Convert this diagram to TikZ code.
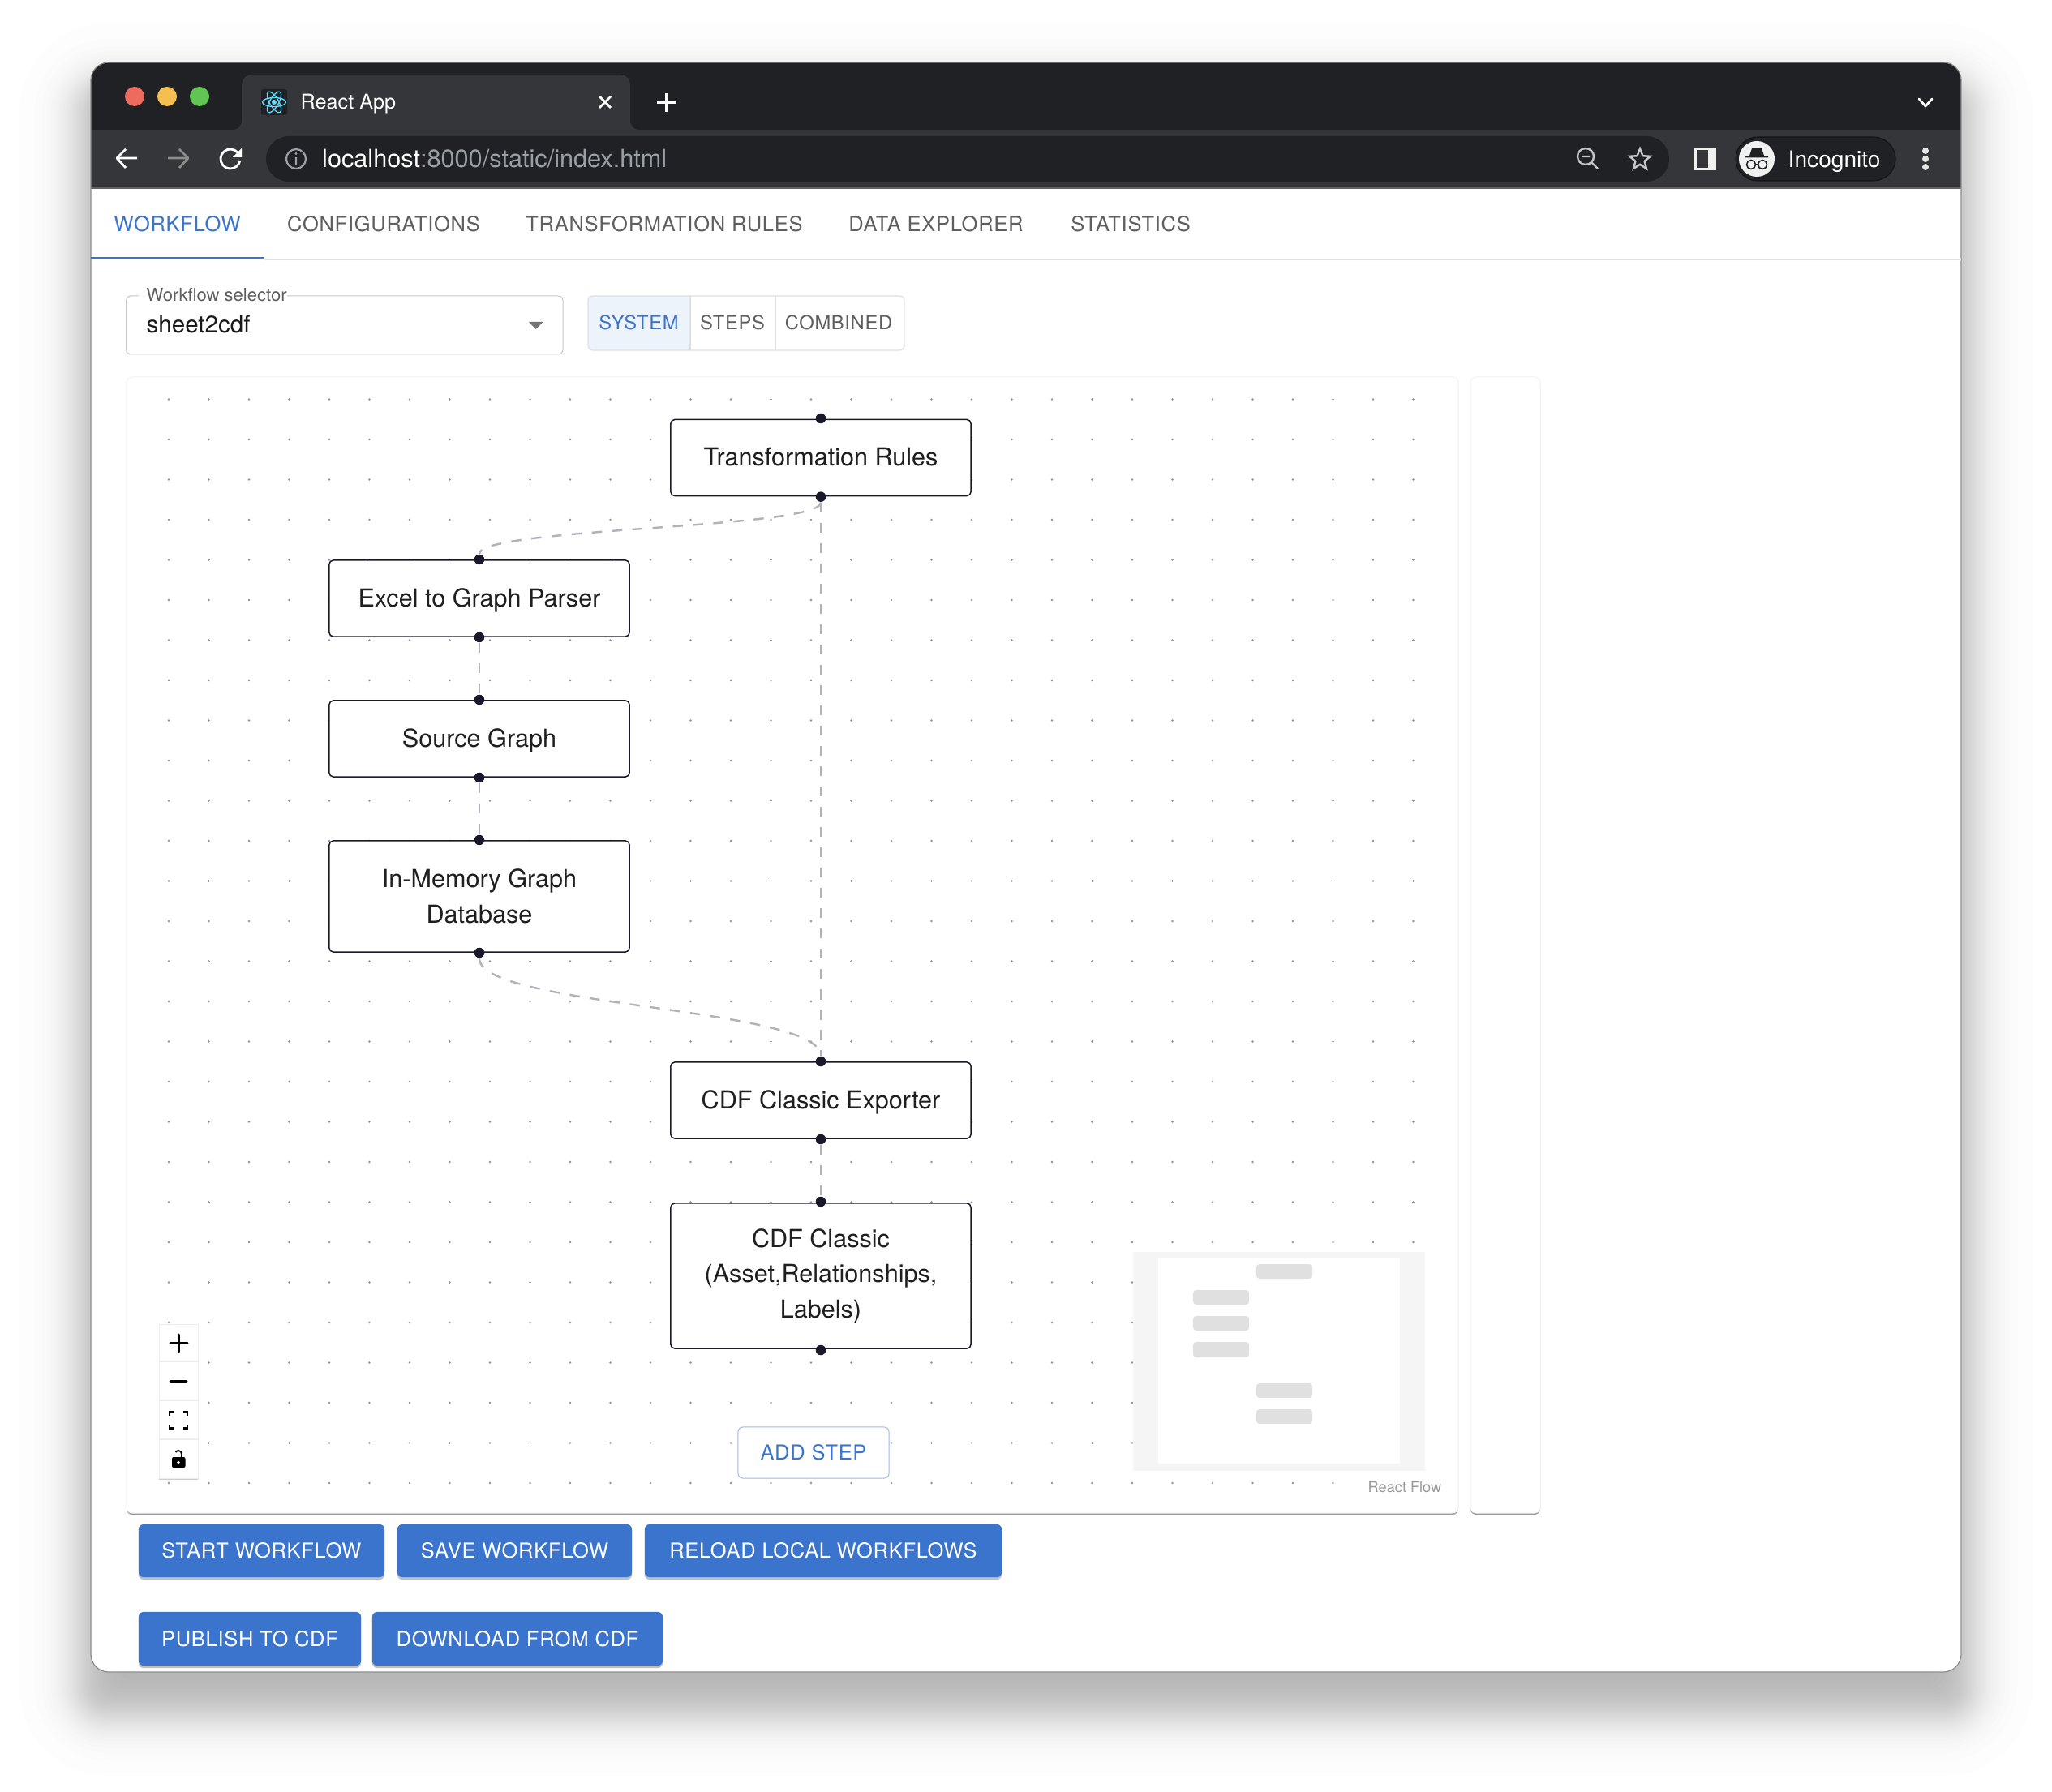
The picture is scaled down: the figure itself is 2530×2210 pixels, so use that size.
\documentclass[tikz,border=0pt]{standalone}
\usepackage{fontspec}
\setmainfont{TeX Gyre Heros}
\newfontfamily\spacedfont[LetterSpace=2.857]{TeX Gyre Heros}
\usetikzlibrary{shapes.geometric,shadows}
\definecolor{titledark}{HTML}{202124}
\definecolor{tooldark}{HTML}{35363A}
\definecolor{urlgrey}{HTML}{9AA0A6}
\definecolor{iconlight}{HTML}{C4C7C9}
\definecolor{mainblue}{HTML}{3B74CC}
\definecolor{tabgrey}{HTML}{5F5F5F}
\definecolor{rulegrey}{HTML}{E0E0E0}
\definecolor{flowink}{HTML}{1A192B}
\definecolor{edgegrey}{HTML}{B1B1B7}
\definecolor{dotgrey}{HTML}{91919A}
\definecolor{reactblue}{HTML}{61DAFB}
\tikzset{
  chip/.style={inner sep=0pt,anchor=center},
  tabtext/.style={chip,text=tabgrey,font=\spacedfont\fontsize{7.25}{8}\selectfont,text height=.18cm,text depth=0pt},
  toggletext/.style={chip,text=tabgrey,font=\spacedfont\fontsize{6.75}{8}\selectfont,text height=.17cm,text depth=0pt},
  mainbtn/.style={fill=mainblue,rounded corners=.06cm,inner sep=0pt,text=white,font=\spacedfont\fontsize{7.24}{8}\selectfont,drop shadow={shadow xshift=0cm,shadow yshift=-.03cm,opacity=.25,fill=black}},
  flowbox/.style={draw=flowink,fill=white,line width=.015cm,rounded corners=.05cm,minimum width=3.7cm,inner sep=0pt,align=center,text=black!88,font=\fontsize{8.7}{12.35}\selectfont},
  handledot/.style={circle,fill=flowink,minimum size=.125cm,inner sep=0pt},
  edge/.style={draw=edgegrey,line width=.024cm,dash pattern=on .125cm off .125cm},
  panel/.style={fill=white,draw=black!5,line width=.01cm,rounded corners=.07cm,drop shadow={shadow xshift=0cm,shadow yshift=-.02cm,opacity=.4,fill=black}},
  thumb/.style={fill=black!12,rounded corners=.04cm},
  ctrl/.style={line width=.03cm,line cap=round,draw=black},
}
\begin{document}
\begin{tikzpicture}[x=.01cm,y=-.01cm]
\useasboundingbox (0,0) rectangle (2530,2210);
\fill[white] (0,0) rectangle (2530,2210);
\foreach \n in {1,...,38} {
  \pgfmathsetmacro{\e}{15+17*ln((\n-.5)/(38.5-\n))}
  \pgfmathsetmacro{\shaderad}{.22+max(\e,0)/100}
  \fill[black,opacity=.0078,rounded corners=\shaderad cm] (112-\e,117-\e) rectangle (2418+\e,2102+\e);
}
\fill[white,rounded corners=.22cm] (112,77) rectangle (2418,2062);
\begin{scope}
\clip[rounded corners=.22cm] (112,77) rectangle (2418,2062);
\fill[titledark] (112,77) rectangle (2418,160);
\fill[tooldark] (112,160) rectangle (2418,233);
\fill[black!62] (112,231.5) rectangle (2418,233.5);
\end{scope}
\draw[black!45,line width=.012cm,rounded corners=.22cm] (112,77) rectangle (2418,2062);
\foreach \cx/\shade in {166/ED6A5E,206/F4BF4F,246/61C554} {
  \definecolor{lampcolor}{HTML}{\shade}
  \fill[lampcolor] (\cx,119) circle[radius=.12cm];
}
\fill[tooldark] (286,160) .. controls (294,160) and (298,156) .. (298,148) -- (298,106) .. controls (298,97) and (303,92) .. (312,92) -- (763,92) .. controls (772,92) and (777,97) .. (777,106) -- (777,148) .. controls (777,156) and (781,160) .. (789,160) -- cycle;
\fill[titledark,rounded corners=.03cm] (322,110) rectangle (354,142);
\foreach \a in {0,60,120} {
  \draw[reactblue,line width=.013cm,rotate around={\a:(338,126)}] (338,126) ellipse[x radius=.145cm,y radius=.055cm];
}
\fill[reactblue] (338,126) circle[radius=.03cm];
\node[chip,text=white,font=\fontsize{7.17}{8}\selectfont,anchor=west] (tabtitle) at (370,128) {React App};
\draw[white,line width=.028cm] (739,119) -- (753,133) (753,119) -- (739,133);
\draw[white,line width=.035cm] (822,115) -- (822,138) (810,126.5) -- (834,126.5);
\draw[white,line width=.028cm,line cap=round,line join=round] (2366,122) -- (2374,131) -- (2382,122);
\draw[white,line width=.028cm,line join=round] (169,195) -- (144,195) (155,184) -- (144,195) -- (155,207);
\draw[black!45,line width=.028cm,line join=round] (207,195) -- (232,195) (221,184) -- (232,195) -- (221,207);
\draw[white,line width=.028cm] (293.2,188.3) arc[start angle=40,end angle=350,radius=.12cm];
\fill[white] (298,183) -- (298,194) -- (287,194) -- cycle;
\fill[titledark,rounded corners=.28cm] (328,168) rectangle (2058,224);
\draw[urlgrey,line width=.022cm] (365,196) circle[radius=.12cm] (365,194) -- (365,203);
\fill[urlgrey] (365,189.5) circle[radius=.017cm];
\node[chip,anchor=west,font=\fontsize{8.72}{10}\selectfont,text height=.2cm,text depth=.02cm] (urltext) at (396.5,198) {\textcolor{white}{localhost}\textcolor{urlgrey}{:8000/static/index.html}};
\draw[iconlight,line width=.024cm] (1955,193) circle[radius=.1cm] (1962.5,200.5) -- (1970,208) (1950,193) -- (1960,193);
\node[star,star points=5,star point ratio=2.3,draw=iconlight,line width=.024cm,minimum size=.27cm,inner sep=0pt] (bookmark) at (2022,197) {};
\fill[white!94!black] (2088,182) rectangle (2116,210);
\fill[tooldark] (2091.5,185) rectangle (2106,207);
\fill[titledark,draw=black!62!tooldark,line width=.012cm,rounded corners=.27cm] (2140,169) rectangle (2337,223);
\fill[white!94!black] (2166,196) circle[radius=.22cm];
\fill[titledark] (2160,183) -- (2172,183) -- (2175,192) -- (2157,192) -- cycle;
\draw[titledark,line width=.016cm] (2152,193.5) -- (2180,193.5) (2159,203) circle[radius=.055cm] (2173,203) circle[radius=.055cm] (2164.5,203) -- (2167.5,203);
\node[chip,text=white,font=\fontsize{8}{10}\selectfont,anchor=west] (profile) at (2204,199.5) {Incognito};
\foreach \dy in {186,196,206} {
  \fill[white!90!black] (2374,\dy) circle[radius=.04cm];
}
\fill[mainblue] (112,317) rectangle (326,320);
\draw[rulegrey,line width=.014cm] (326,320) -- (2418,320);
\node[tabtext,text=mainblue] (workflowtab) at (218.7,277) {WORKFLOW};
\node[tabtext] (configtab) at (473,277) {CONFIGURATIONS};
\node[tabtext] (rulestab) at (819,277) {TRANSFORMATION RULES};
\node[tabtext] (explorertab) at (1154,277) {DATA EXPLORER};
\node[tabtext] (statstab) at (1394,277) {STATISTICS};
\draw[black!22,line width=.01cm,rounded corners=.06cm] (155.5,365) rectangle (694,437);
\node[chip,anchor=west,fill=white,text=tabgrey,font=\fontsize{6.27}{8}\selectfont] (selectorlabel) at (170,364) {\hspace{.1cm}Workflow selector};
\node[chip,anchor=west,text=black!90,font=\fontsize{8.4}{10}\selectfont] (selectorvalue) at (180,400) {sheet2cdf};
\fill[black!55] (652,397) -- (669.5,397) -- (660.7,406) -- cycle;
\fill[mainblue!9] (851,365) {[rounded corners=.06cm] -- (725,365) -- (725,432)} -- (851,432) -- cycle;
\draw[rulegrey,line width=.012cm,rounded corners=.06cm] (725,365) rectangle (1115,432);
\draw[rulegrey,line width=.012cm] (851,365) -- (851,432) (956,365) -- (956,432);
\node[toggletext,text=mainblue] (systemtoggle) at (787.5,398) {SYSTEM};
\node[toggletext] (stepstoggle) at (903,398) {STEPS};
\node[toggletext] (combinedtoggle) at (1034,398) {COMBINED};
\path[panel] (156,465) rectangle (1798,1866);
\path[panel] (1813,465) rectangle (1899,1866);
\fill[dotgrey] \foreach \i in {0,...,31} {\foreach \j in {0,...,27} {(208+49.5*\i,492.5+49.5*\j) circle[radius=.014cm]}};
\node[flowbox,minimum height=.94cm,text depth=.02cm] (rules) at (1012,564.5) {Transformation Rules};
\node[flowbox,minimum height=.94cm,text depth=.02cm] (parser) at (591,738) {Excel to Graph Parser};
\node[flowbox,minimum height=.94cm,text depth=.02cm] (source) at (591,911) {Source Graph};
\node[flowbox,minimum height=1.37cm] (memory) at (591,1105.5) {In-Memory Graph\\Database};
\node[flowbox,minimum height=.94cm,text depth=.02cm] (exporter) at (1012,1357) {CDF Classic Exporter};
\node[flowbox,minimum height=1.79cm] (classic) at (1012,1573.5) {CDF Classic\\(Asset,Relationships,\\Labels)};
\node[handledot] (rulesin) at (1012,516) {};
\node[handledot] (rulesout) at (1012,612.7) {};
\node[handledot] (parserin) at (591,690) {};
\node[handledot] (parserout) at (591,786) {};
\node[handledot] (sourcein) at (591,863) {};
\node[handledot] (sourceout) at (591,959) {};
\node[handledot] (memoryin) at (591,1036) {};
\node[handledot] (memoryout) at (591,1175) {};
\node[handledot] (exporterin) at (1012,1309) {};
\node[handledot] (exporterout) at (1012,1405) {};
\node[handledot] (classicin) at (1012,1482) {};
\node[handledot] (classicout) at (1012,1665) {};
\draw[edge] (rulesout) .. controls +(0,39.5) and +(0,-39.5) .. (parserin);
\draw[edge] (rulesout) -- (exporterin);
\draw[edge] (parserout) -- (sourcein);
\draw[edge] (sourceout) -- (memoryin);
\draw[edge] (memoryout) .. controls +(0,67) and +(0,-67) .. (exporterin);
\draw[edge] (exporterout) -- (classicin);
\node[draw=mainblue!50,fill=white,rounded corners=.06cm,line width=.01cm,minimum width=1.86cm,minimum height=.63cm,inner sep=0pt,text=mainblue,font=\spacedfont\fontsize{7.24}{8}\selectfont] (addstep) at (1003,1791.5) {ADD STEP};
\fill[black!4] (1397,1544) rectangle (1757,1814);
\fill[white] (1428,1552) rectangle (1726,1805);
\fill[thumb] (1549,1559) rectangle (1618,1577);
\fill[thumb] (1471,1591) rectangle (1540,1609);
\fill[thumb] (1471,1623) rectangle (1540,1641);
\fill[thumb] (1471,1655) rectangle (1540,1674);
\fill[thumb] (1549,1706) rectangle (1618,1724);
\fill[thumb] (1549,1738) rectangle (1618,1756);
\node[chip,fill=white,inner xsep=.05cm,inner ysep=.02cm,text=black!40,font=\fontsize{5.17}{6}\selectfont] (attribution) at (1732,1834) {React Flow};
\path[fill=white,draw=black!7,line width=.01cm,drop shadow={shadow xshift=0cm,shadow yshift=-.015cm,opacity=.2,fill=black}] (196,1633) rectangle (244,1823);
\draw[black!7,line width=.012cm] (196,1679) -- (244,1679) (196,1727) -- (244,1727) (196,1775) -- (244,1775);
\draw[ctrl] (220,1646) -- (220,1667) (210,1656.5) -- (231,1656.5);
\draw[ctrl] (210,1703) -- (230,1703);
\draw[black,line width=.024cm] (209,1746) -- (209,1741.5) -- (214,1741.5) (226,1741.5) -- (231,1741.5) -- (231,1746) (231,1757) -- (231,1761.5) -- (226,1761.5) (214,1761.5) -- (209,1761.5) -- (209,1757);
\fill[black,rounded corners=.02cm] (212,1797) rectangle (228.5,1810);
\fill[white] (220,1803.5) circle[radius=.018cm];
\draw[black,line width=.018cm] (224,1797) -- (224,1793) arc[start angle=0,end angle=150,radius=.04cm];
\node[mainbtn,minimum width=3.03cm,minimum height=.65cm] (startbtn) at (322.5,1912.5) {START WORKFLOW};
\node[mainbtn,minimum width=2.89cm,minimum height=.65cm] (savebtn) at (634.5,1912.5) {SAVE WORKFLOW};
\node[mainbtn,minimum width=4.4cm,minimum height=.65cm] (reloadbtn) at (1015,1912.5) {RELOAD LOCAL WORKFLOWS};
\node[mainbtn,minimum width=2.74cm,minimum height=.66cm] (publishbtn) at (308,2021) {PUBLISH TO CDF};
\node[mainbtn,minimum width=3.58cm,minimum height=.66cm] (downloadbtn) at (638,2021) {DOWNLOAD FROM CDF};
\end{tikzpicture}
\end{document}
